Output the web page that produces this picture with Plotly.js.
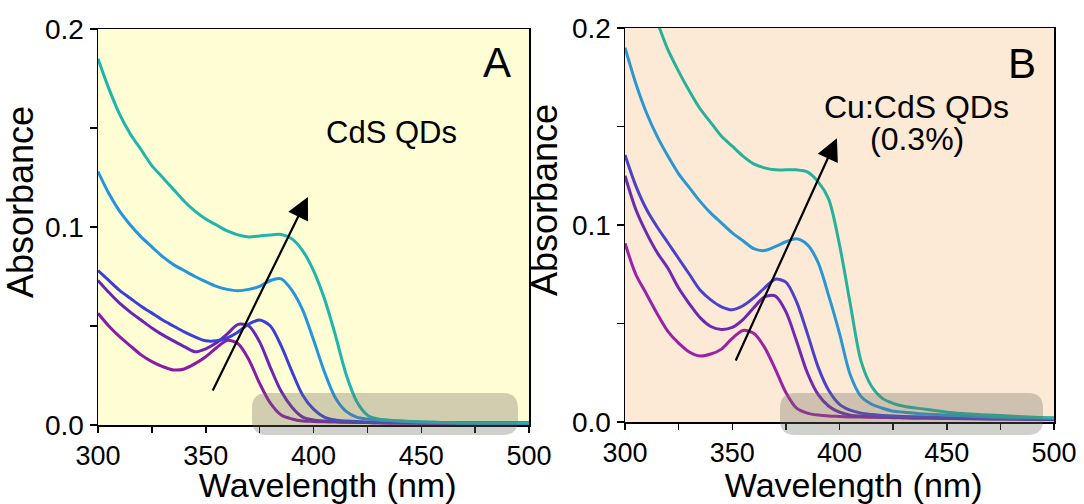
<!DOCTYPE html>
<html>
<head>
<meta charset="utf-8">
<script src="https://cdn.plot.ly/plotly-3.0.1.min.js"></script>
<style>
  html, body { margin: 0; padding: 0; background: #ffffff; }
  #chart { width: 1084px; height: 504px; }
</style>
</head>
<body>
<div id="chart"></div>
<script>
// ---------- data ----------
const wavelength = [300,305,310,315,320,325,330,335,340,345,350,355,360,365,370,375,380,385,390,395,400,405,410,415,420,425,430,440,450,470,500];

// Panel A: CdS QDs (absorbance, bottom to top)
const cdsMagenta = [0.0564,0.050,0.0446,0.040,0.0354,0.032,0.0295,0.0278,0.0283,0.031,0.0345,0.039,0.0428,0.041,0.033,0.021,0.011,0.005,0.003,0.002,0.0018,0.0016,0.0015,0.0014,0.0013,0.0012,0.0011,0.001,0.001,0.001,0.001];
const cdsViolet  = [0.073,0.067,0.0615,0.057,0.053,0.049,0.0455,0.0425,0.0396,0.037,0.0385,0.0415,0.046,0.0508,0.050,0.042,0.029,0.017,0.009,0.004,0.0025,0.002,0.0018,0.0015,0.0013,0.0012,0.0011,0.001,0.001,0.001,0.001];
const cdsBlue    = [0.078,0.073,0.068,0.064,0.060,0.0565,0.053,0.050,0.047,0.0445,0.0425,0.0425,0.044,0.047,0.051,0.053,0.050,0.040,0.027,0.015,0.008,0.004,0.0025,0.002,0.0018,0.0015,0.0013,0.0012,0.001,0.001,0.001];
const cdsSky     = [0.128,0.117,0.108,0.101,0.095,0.090,0.085,0.081,0.078,0.075,0.0724,0.070,0.0685,0.0678,0.0685,0.070,0.073,0.0738,0.068,0.058,0.043,0.027,0.014,0.007,0.004,0.003,0.0025,0.002,0.0015,0.001,0.001];
const cdsTeal    = [0.185,0.170,0.157,0.147,0.139,0.131,0.125,0.119,0.113,0.108,0.104,0.101,0.098,0.096,0.095,0.0955,0.096,0.0962,0.094,0.088,0.078,0.064,0.046,0.026,0.012,0.005,0.003,0.002,0.0015,0.001,0.001];

// Panel B: Cu:CdS QDs (0.3%)
const cuMagenta = [0.0907,0.075,0.065,0.055,0.046,0.040,0.0355,0.0335,0.0345,0.037,0.0425,0.0465,0.045,0.038,0.027,0.015,0.007,0.0045,0.0035,0.003,0.0028,0.0026,0.0025,0.0024,0.0023,0.0022,0.0021,0.002,0.0019,0.0017,0.0015];
const cuViolet  = [0.125,0.108,0.096,0.086,0.078,0.068,0.060,0.053,0.0485,0.047,0.048,0.052,0.058,0.0635,0.064,0.056,0.041,0.025,0.014,0.008,0.005,0.0035,0.003,0.0027,0.0025,0.0023,0.0022,0.002,0.0018,0.0015,0.0012];
const cuBlue    = [0.1355,0.120,0.108,0.099,0.091,0.083,0.075,0.067,0.062,0.0585,0.057,0.059,0.063,0.068,0.0725,0.071,0.061,0.045,0.028,0.016,0.009,0.006,0.0045,0.0038,0.0033,0.003,0.0028,0.0025,0.0022,0.002,0.0015];
const cuSky     = [0.190,0.172,0.157,0.145,0.135,0.126,0.119,0.112,0.106,0.101,0.096,0.092,0.088,0.087,0.089,0.0915,0.093,0.090,0.081,0.064,0.045,0.024,0.013,0.009,0.007,0.0055,0.005,0.004,0.0035,0.0025,0.002];
const cuTeal    = [0.250,0.232,0.216,0.203,0.189,0.178,0.168,0.159,0.152,0.145,0.140,0.135,0.131,0.129,0.128,0.128,0.128,0.127,0.122,0.113,0.090,0.060,0.031,0.018,0.012,0.0095,0.008,0.0065,0.005,0.0035,0.002];

const seriesA = [cdsMagenta, cdsViolet, cdsBlue, cdsSky, cdsTeal];
const seriesB = [cuMagenta, cuViolet, cuBlue, cuSky, cuTeal];
const colorsA = ['#8b1aa6','#6c24b5','#3b3fd9','#2394e0','#1db5ae'];
const colorsB = ['#9a22a6','#7028b0','#4a42c8','#2a97d0','#27b09a'];

const xTicks = [300,350,400,450,500];
const yTicks = [0.0,0.1,0.2];

// ---------- layout helpers ----------
const W = 1084, H = 504;
const FONT = 'Arial, "Liberation Sans", sans-serif';
const ZW = '\u200B', NB = '\u00A0';

function xAxis(domain, anchor) {
  return {
    domain: domain, anchor: anchor, range: [300, 500],
    tickmode: 'array', tickvals: xTicks, ticktext: xTicks.map(String),
    ticks: 'outside', ticklen: 6, tickwidth: 1.5, tickcolor: '#000',
    minor: {dtick: 25, tick0: 300, ticks: 'outside', ticklen: 6, tickwidth: 1.5, tickcolor: '#000', showgrid: false},
    showline: true, linecolor: '#000', linewidth: 1.5, mirror: true,
    showgrid: false, zeroline: false,
    tickfont: {family: FONT, size: 27, color: '#000'},
    title: {text: ZW + NB + NB + NB + 'Wavelength (nm)', font: {family: FONT, size: 34, color: '#000'}, standoff: 0}
  };
}
function yAxis(domain, anchor) {
  return {
    domain: domain, anchor: anchor, range: [0, 0.2],
    tickmode: 'array', tickvals: yTicks, ticktext: yTicks.map(v => v.toFixed(1)),
    ticks: 'outside', ticklen: 7, tickwidth: 1.5, tickcolor: '#000',
    minor: {dtick: 0.05, tick0: 0, ticks: 'outside', ticklen: 7, tickwidth: 1.5, tickcolor: '#000', showgrid: false},
    showline: true, linecolor: '#000', linewidth: 1.5, mirror: true,
    showgrid: false, zeroline: false,
    tickfont: {family: FONT, size: 28, color: '#000'},
    title: {text: ZW + NB + NB + NB + NB + NB + 'Absorbance', font: {family: FONT, size: 36, color: '#000'}, standoff: 3}
  };
}
function roundRect(x0, x1, y0, y1, r) {
  // pixel coords -> paper coords path with rounded corners
  const px = v => (v / W).toFixed(5);
  const py = v => ((H - v) / H).toFixed(5);
  return 'M ' + px(x0 + r) + ',' + py(y0) +
    ' L ' + px(x1 - r) + ',' + py(y0) +
    ' Q ' + px(x1) + ',' + py(y0) + ' ' + px(x1) + ',' + py(y0 + r) +
    ' L ' + px(x1) + ',' + py(y1 - r) +
    ' Q ' + px(x1) + ',' + py(y1) + ' ' + px(x1 - r) + ',' + py(y1) +
    ' L ' + px(x0 + r) + ',' + py(y1) +
    ' Q ' + px(x0) + ',' + py(y1) + ' ' + px(x0) + ',' + py(y1 - r) +
    ' L ' + px(x0) + ',' + py(y0 + r) +
    ' Q ' + px(x0) + ',' + py(y0) + ' ' + px(x0 + r) + ',' + py(y0) + ' Z';
}

// ---------- traces ----------
const traces = [];
seriesA.forEach((s, i) => traces.push({
  x: wavelength, y: s, type: 'scatter', mode: 'lines', xaxis: 'x', yaxis: 'y',
  line: {color: colorsA[i], width: 3, shape: 'spline', smoothing: 0.8},
  showlegend: false, cliponaxis: true
}));
seriesB.forEach((s, i) => traces.push({
  x: wavelength, y: s, type: 'scatter', mode: 'lines', xaxis: 'x2', yaxis: 'y2',
  line: {color: colorsB[i], width: 3, shape: 'spline', smoothing: 0.8},
  showlegend: false, cliponaxis: true
}));

const domAx = [98 / W, 529 / W], domAy = [(H - 425) / H, (H - 29) / H];
const domBx = [625 / W, 1054 / W], domBy = [(H - 422) / H, (H - 28) / H];

const layout = {
  width: W, height: H,
  margin: {l: 0, r: 0, t: 0, b: 0, pad: 0},
  paper_bgcolor: '#ffffff', plot_bgcolor: 'rgba(0,0,0,0)',
  font: {family: FONT, color: '#000'},
  showlegend: false,
  xaxis: xAxis(domAx, 'y'),
  yaxis: yAxis(domAy, 'x'),
  xaxis2: xAxis(domBx, 'y2'),
  yaxis2: yAxis(domBy, 'x2'),
  shapes: [
    {type: 'rect', xref: 'x domain', yref: 'y domain', x0: 0, x1: 1, y0: 0, y1: 1,
     fillcolor: '#fffdd3', line: {width: 0}, layer: 'below'},
    {type: 'rect', xref: 'x2 domain', yref: 'y2 domain', x0: 0, x1: 1, y0: 0, y1: 1,
     fillcolor: '#fce9d6', line: {width: 0}, layer: 'below'},
    {type: 'path', xref: 'paper', yref: 'paper', path: roundRect(252, 518, 393, 435, 15),
     fillcolor: 'rgba(110,108,95,0.32)', line: {width: 0}, layer: 'above'},
    {type: 'path', xref: 'paper', yref: 'paper', path: roundRect(780, 1043, 393, 435, 15),
     fillcolor: 'rgba(110,108,95,0.32)', line: {width: 0}, layer: 'above'}
  ],
  annotations: [
    {xref: 'x', yref: 'y', x: 485, y: 0.183, text: 'A', showarrow: false,
     font: {family: FONT, size: 42, color: '#000'}},
    {xref: 'x', yref: 'y', x: 436, y: 0.1475, text: 'CdS QDs', showarrow: false,
     font: {family: FONT, size: 31, color: '#000'}},
    {xref: 'x', yref: 'y', axref: 'x', ayref: 'y', x: 397.4, y: 0.1152, ax: 352.9, ay: 0.0167,
     text: '', showarrow: true, arrowhead: 2, arrowsize: 2, arrowwidth: 2.2, arrowcolor: '#000'},
    {xref: 'x2', yref: 'y2', x: 485, y: 0.182, text: 'B', showarrow: false,
     font: {family: FONT, size: 42, color: '#000'}},
    {xref: 'x2', yref: 'y2', x: 436, y: 0.160, text: 'Cu:CdS QDs', showarrow: false,
     font: {family: FONT, size: 32, color: '#000'}},
    {xref: 'x2', yref: 'y2', x: 436, y: 0.1437, text: '(0.3%)', showarrow: false,
     font: {family: FONT, size: 32, color: '#000'}},
    {xref: 'x2', yref: 'y2', axref: 'x2', ayref: 'y2', x: 398.8, y: 0.144, ax: 351.3, ay: 0.0305,
     text: '', showarrow: true, arrowhead: 2, arrowsize: 2, arrowwidth: 2.2, arrowcolor: '#000'}
  ]
};

Plotly.newPlot('chart', traces, layout, {displayModeBar: false, staticPlot: true});
</script>
</body>
</html>
